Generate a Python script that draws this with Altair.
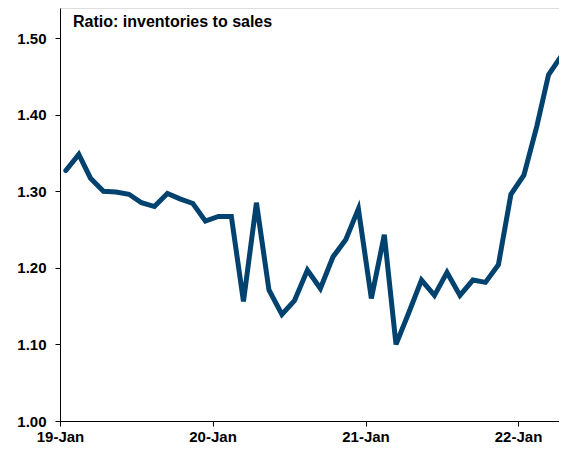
import altair as alt
import pandas as pd

dates = [
    d.strftime("%Y-%m-%d")
    for d in pd.date_range("2019-01-01", periods=40, freq="MS") + pd.Timedelta(days=14)
]

ratio = [
    1.327, 1.348, 1.317, 1.300, 1.299, 1.296, 1.285, 1.280, 1.297, 1.290, 1.284, 1.261,
    1.267, 1.267, 1.156, 1.285, 1.171, 1.139, 1.157, 1.197, 1.173, 1.214, 1.237, 1.277,
    1.160, 1.243, 1.100, 1.142, 1.184, 1.164, 1.194, 1.164, 1.184, 1.181, 1.204, 1.296,
    1.321, 1.385, 1.452, 1.477,
]
year_ticks = ["2019-01-01", "2020-01-01", "2021-01-01", "2022-01-01"]
y_ticks = [1.0, 1.1, 1.2, 1.3, 1.4, 1.5]
title_text = "Ratio: inventories to sales"

df = pd.DataFrame({"date": dates, "ratio": ratio})

FONT = "Liberation Sans"

x_enc = alt.X(
    "date:T",
    scale=alt.Scale(domain=["2019-01-01", "2022-04-09"], nice=False),
    axis=alt.Axis(
        values=year_ticks,
        format="%y-%b",
        title=None,
        grid=False,
        domainColor="black",
        tickColor="black",
        tickSize=5,
        labelPadding=3,
        labelFont=FONT,
        labelFontSize=15,
        labelFontWeight="bold",
        labelColor="black",
        labelFlush=False,
    ),
)
y_enc = alt.Y(
    "ratio:Q",
    scale=alt.Scale(domain=[1.0, 1.5392], nice=False, zero=False),
    axis=alt.Axis(
        values=y_ticks,
        format=".2f",
        title=None,
        grid=False,
        domainColor="black",
        tickColor="black",
        tickSize=5,
        labelPadding=9,
        labelFont=FONT,
        labelFontSize=15,
        labelFontWeight="bold",
        labelColor="black",
    ),
)

line = alt.Chart(df).mark_line(
    color="#02426F", strokeWidth=5, strokeJoin="miter", strokeCap="round"
).encode(x=x_enc, y=y_enc)

title = alt.Chart(pd.DataFrame({"t": [title_text]})).mark_text(
    align="left", baseline="alphabetic", font=FONT, fontSize=16,
    fontWeight="bold", color="black",
).encode(text="t:N", x=alt.value(13), y=alt.value(19))

chart = (
    alt.layer(line, title)
    .properties(
        width=499,
        height=413,
        autosize=alt.AutoSizeParams(type="none"),
        padding={"left": 52, "top": 0, "right": 0, "bottom": 22},
    )
    .configure_view(stroke=None)
    .configure(background="white")
)

chart.save("out.html", embed_options={"renderer": "svg", "actions": False})
